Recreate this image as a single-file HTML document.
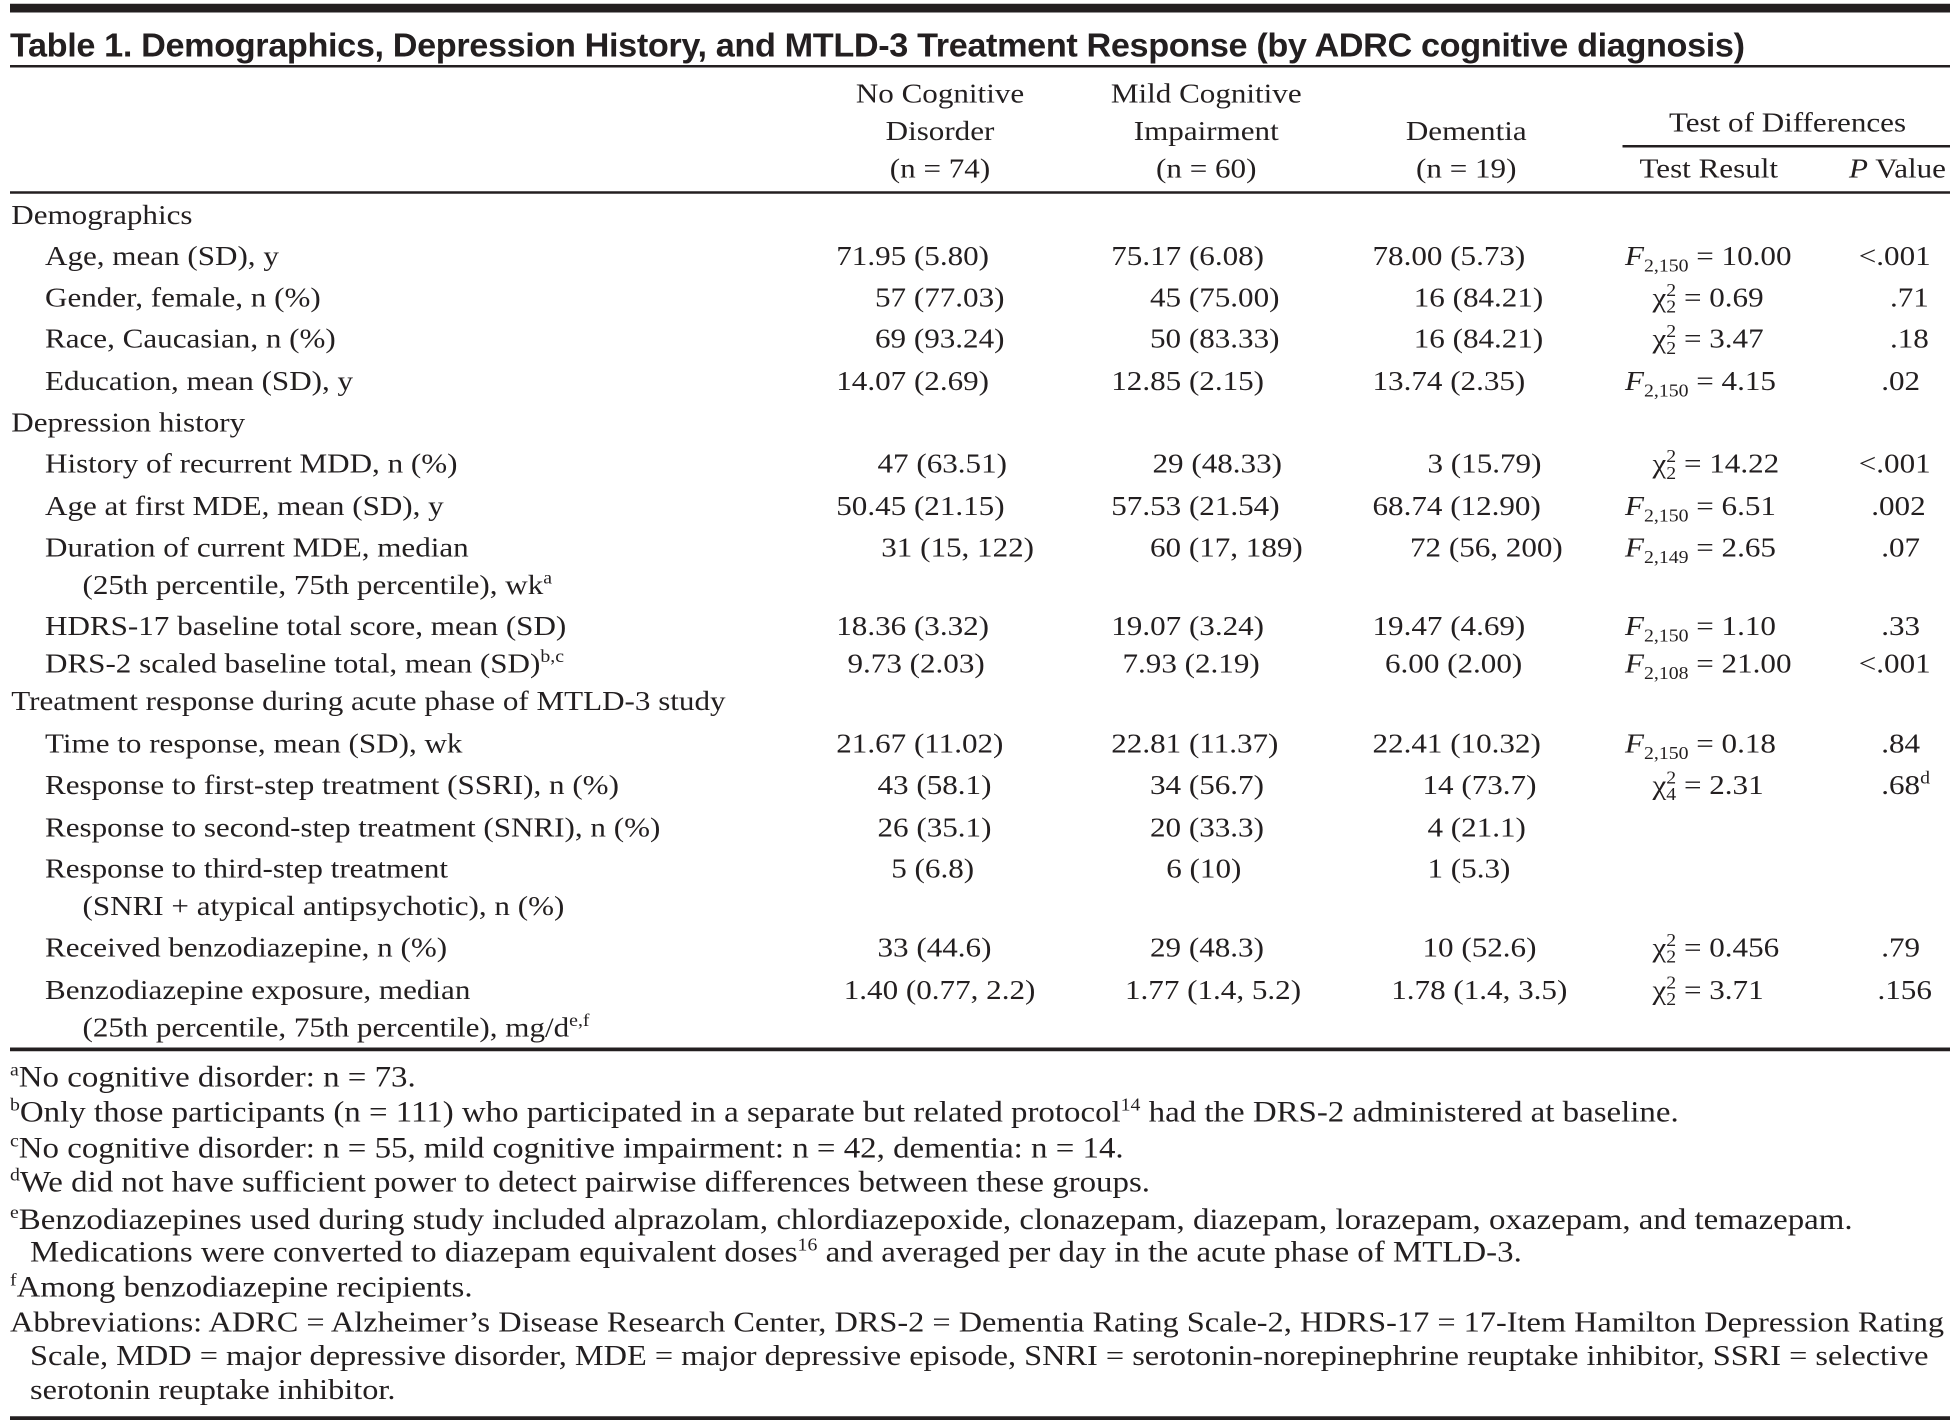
<!DOCTYPE html>
<html><head><meta charset="utf-8">
<style>
html,body{margin:0;padding:0;background:#fff;width:1959px;height:1425px;overflow:hidden}
#r{position:absolute;left:0;top:0;width:1567.2px;height:1140px;transform:scale(1.25);transform-origin:0 0;font-family:"Liberation Serif",serif;font-size:22px;color:#231f20}
.t{position:absolute;white-space:nowrap;line-height:22px;transform:scaleX(1.13);transform-origin:0 50%}
.c{transform:translateX(-50%) scaleX(1.13);transform-origin:50% 50%}
.f{font-size:23.3px;line-height:24px}
.fa{font-size:22.9px;line-height:24px}
.b{position:absolute;background:#231f20;left:8px;width:1552px}
sub,sup{font-size:14px;line-height:0}
i{font-style:italic}
</style></head><body><div id="r">
<div class="b" style="top:3px;height:7px"></div>
<div style="position:absolute;white-space:nowrap;left:8px;top:21px;font-family:'Liberation Sans',sans-serif;font-weight:bold;font-size:27px;line-height:30px;letter-spacing:-0.3px;transform:scaleX(1.015);transform-origin:0 50%">Table 1. Demographics, Depression History, and MTLD-3 Treatment Response (by ADRC cognitive diagnosis)</div>
<div class="b" style="top:51.5px;height:2.5px"></div>

<div class="t c" style="left:752px;top:64px">No Cognitive</div>
<div class="t c" style="left:752px;top:94px">Disorder</div>
<div class="t c" style="left:752px;top:124px">(n = 74)</div>
<div class="t c" style="left:965px;top:64px">Mild Cognitive</div>
<div class="t c" style="left:965px;top:94px">Impairment</div>
<div class="t c" style="left:965px;top:124px">(n = 60)</div>
<div class="t c" style="left:1173px;top:94px">Dementia</div>
<div class="t c" style="left:1173px;top:124px">(n = 19)</div>
<div class="t c" style="left:1430px;top:87px">Test of Differences</div>
<div style="position:absolute;left:1298px;top:116px;width:262px;height:2px;background:#231f20"></div>
<div class="t c" style="left:1367px;top:124px">Test Result</div>
<div class="t c" style="left:1518px;top:124px"><i>P</i> Value</div>
<div class="b" style="top:152.5px;height:2.5px"></div>

<div class="t" style="left:9px;top:161px">Demographics</div>
<div class="t" style="left:36px;top:194px">Age, mean (SD), y</div>
<div class="t" style="left:36px;top:227px">Gender, female, n (%)</div>
<div class="t" style="left:36px;top:260px">Race, Caucasian, n (%)</div>
<div class="t" style="left:36px;top:294px">Education, mean (SD), y</div>
<div class="t" style="left:9px;top:327px">Depression history</div>
<div class="t" style="left:36px;top:360px">History of recurrent MDD, n (%)</div>
<div class="t" style="left:36px;top:394px">Age at first MDE, mean (SD), y</div>
<div class="t" style="left:36px;top:427px">Duration of current MDE, median</div>
<div class="t" style="left:66px;top:457px">(25th percentile, 75th percentile), wk<sup>a</sup></div>
<div class="t" style="left:36px;top:490px">HDRS-17 baseline total score, mean (SD)</div>
<div class="t" style="left:36px;top:520px">DRS-2 scaled baseline total, mean (SD)<sup>b,c</sup></div>
<div class="t" style="left:9px;top:550px">Treatment response during acute phase of MTLD-3 study</div>
<div class="t" style="left:36px;top:584px">Time to response, mean (SD), wk</div>
<div class="t" style="left:36px;top:617px">Response to first-step treatment (SSRI), n (%)</div>
<div class="t" style="left:36px;top:651px">Response to second-step treatment (SNRI), n (%)</div>
<div class="t" style="left:36px;top:684px">Response to third-step treatment</div>
<div class="t" style="left:66px;top:714px">(SNRI + atypical antipsychotic), n (%)</div>
<div class="t" style="left:36px;top:747px">Received benzodiazepine, n (%)</div>
<div class="t" style="left:36px;top:781px">Benzodiazepine exposure, median</div>
<div class="t" style="left:66px;top:811px">(25th percentile, 75th percentile), mg/d<sup>e,f</sup></div>

<div class="t" style="left:669px;top:194px">71.95 (5.80)</div>
<div class="t" style="left:889px;top:194px">75.17 (6.08)</div>
<div class="t" style="left:1098px;top:194px">78.00 (5.73)</div>
<div class="t" style="left:1300px;top:194px"><i>F</i><sub>2,150</sub> = 10.00</div>
<div class="t" style="left:1487px;top:194px">&lt;.001</div>
<div class="t" style="left:700px;top:227px">57 (77.03)</div>
<div class="t" style="left:920px;top:227px">45 (75.00)</div>
<div class="t" style="left:1131px;top:227px">16 (84.21)</div>
<div class="t" style="left:1322px;top:227px">χ<sup>2</sup><sub style="margin-left:-7px">2</sub> = 0.69</div>
<div class="t" style="left:1512px;top:227px">.71</div>
<div class="t" style="left:700px;top:260px">69 (93.24)</div>
<div class="t" style="left:920px;top:260px">50 (83.33)</div>
<div class="t" style="left:1131px;top:260px">16 (84.21)</div>
<div class="t" style="left:1322px;top:260px">χ<sup>2</sup><sub style="margin-left:-7px">2</sub> = 3.47</div>
<div class="t" style="left:1512px;top:260px">.18</div>
<div class="t" style="left:669px;top:294px">14.07 (2.69)</div>
<div class="t" style="left:889px;top:294px">12.85 (2.15)</div>
<div class="t" style="left:1098px;top:294px">13.74 (2.35)</div>
<div class="t" style="left:1300px;top:294px"><i>F</i><sub>2,150</sub> = 4.15</div>
<div class="t" style="left:1505px;top:294px">.02</div>
<div class="t" style="left:702px;top:360px">47 (63.51)</div>
<div class="t" style="left:922px;top:360px">29 (48.33)</div>
<div class="t" style="left:1142px;top:360px">3 (15.79)</div>
<div class="t" style="left:1322px;top:360px">χ<sup>2</sup><sub style="margin-left:-7px">2</sub> = 14.22</div>
<div class="t" style="left:1487px;top:360px">&lt;.001</div>
<div class="t" style="left:669px;top:394px">50.45 (21.15)</div>
<div class="t" style="left:889px;top:394px">57.53 (21.54)</div>
<div class="t" style="left:1098px;top:394px">68.74 (12.90)</div>
<div class="t" style="left:1300px;top:394px"><i>F</i><sub>2,150</sub> = 6.51</div>
<div class="t" style="left:1497px;top:394px">.002</div>
<div class="t" style="left:705px;top:427px">31 (15, 122)</div>
<div class="t" style="left:920px;top:427px">60 (17, 189)</div>
<div class="t" style="left:1128px;top:427px">72 (56, 200)</div>
<div class="t" style="left:1300px;top:427px"><i>F</i><sub>2,149</sub> = 2.65</div>
<div class="t" style="left:1505px;top:427px">.07</div>
<div class="t" style="left:669px;top:490px">18.36 (3.32)</div>
<div class="t" style="left:889px;top:490px">19.07 (3.24)</div>
<div class="t" style="left:1098px;top:490px">19.47 (4.69)</div>
<div class="t" style="left:1300px;top:490px"><i>F</i><sub>2,150</sub> = 1.10</div>
<div class="t" style="left:1505px;top:490px">.33</div>
<div class="t" style="left:678px;top:520px">9.73 (2.03)</div>
<div class="t" style="left:898px;top:520px">7.93 (2.19)</div>
<div class="t" style="left:1108px;top:520px">6.00 (2.00)</div>
<div class="t" style="left:1300px;top:520px"><i>F</i><sub>2,108</sub> = 21.00</div>
<div class="t" style="left:1487px;top:520px">&lt;.001</div>
<div class="t" style="left:669px;top:584px">21.67 (11.02)</div>
<div class="t" style="left:889px;top:584px">22.81 (11.37)</div>
<div class="t" style="left:1098px;top:584px">22.41 (10.32)</div>
<div class="t" style="left:1300px;top:584px"><i>F</i><sub>2,150</sub> = 0.18</div>
<div class="t" style="left:1505px;top:584px">.84</div>
<div class="t" style="left:702px;top:617px">43 (58.1)</div>
<div class="t" style="left:920px;top:617px">34 (56.7)</div>
<div class="t" style="left:1138px;top:617px">14 (73.7)</div>
<div class="t" style="left:1322px;top:617px">χ<sup>2</sup><sub style="margin-left:-7px">4</sub> = 2.31</div>
<div class="t" style="left:1505px;top:617px">.68<sup>d</sup></div>
<div class="t" style="left:702px;top:651px">26 (35.1)</div>
<div class="t" style="left:920px;top:651px">20 (33.3)</div>
<div class="t" style="left:1142px;top:651px">4 (21.1)</div>
<div class="t" style="left:713px;top:684px">5 (6.8)</div>
<div class="t" style="left:933px;top:684px">6 (10)</div>
<div class="t" style="left:1142px;top:684px">1 (5.3)</div>
<div class="t" style="left:702px;top:747px">33 (44.6)</div>
<div class="t" style="left:920px;top:747px">29 (48.3)</div>
<div class="t" style="left:1138px;top:747px">10 (52.6)</div>
<div class="t" style="left:1322px;top:747px">χ<sup>2</sup><sub style="margin-left:-7px">2</sub> = 0.456</div>
<div class="t" style="left:1505px;top:747px">.79</div>
<div class="t" style="left:675px;top:781px">1.40 (0.77, 2.2)</div>
<div class="t" style="left:900px;top:781px">1.77 (1.4, 5.2)</div>
<div class="t" style="left:1113px;top:781px">1.78 (1.4, 3.5)</div>
<div class="t" style="left:1322px;top:781px">χ<sup>2</sup><sub style="margin-left:-7px">2</sub> = 3.71</div>
<div class="t" style="left:1502px;top:781px">.156</div>

<div class="b" style="top:838px;height:2.5px"></div>

<div class="t f" style="left:8px;top:850px"><sup>a</sup>No cognitive disorder: n = 73.</div>
<div class="t f" style="left:8px;top:878px"><sup>b</sup>Only those participants (n = 111) who participated in a separate but related protocol<sup>14</sup> had the DRS-2 administered at baseline.</div>
<div class="t f" style="left:8px;top:907px"><sup>c</sup>No cognitive disorder: n = 55, mild cognitive impairment: n = 42, dementia: n = 14.</div>
<div class="t f" style="left:8px;top:934px"><sup>d</sup>We did not have sufficient power to detect pairwise differences between these groups.</div>
<div class="t f" style="left:8px;top:964px"><sup>e</sup>Benzodiazepines used during study included alprazolam, chlordiazepoxide, clonazepam, diazepam, lorazepam, oxazepam, and temazepam.</div>
<div class="t f" style="left:24px;top:990px">Medications were converted to diazepam equivalent doses<sup>16</sup> and averaged per day in the acute phase of MTLD-3.</div>
<div class="t f" style="left:8px;top:1018px"><sup>f</sup>Among benzodiazepine recipients.</div>
<div class="t fa" style="left:8px;top:1046px">Abbreviations: ADRC = Alzheimer’s Disease Research Center, DRS-2 = Dementia Rating Scale-2, HDRS-17 = 17-Item Hamilton Depression Rating</div>
<div class="t fa" style="left:24px;top:1073px">Scale, MDD = major depressive disorder, MDE = major depressive episode, SNRI = serotonin-norepinephrine reuptake inhibitor, SSRI = selective</div>
<div class="t fa" style="left:24px;top:1100px">serotonin reuptake inhibitor.</div>

<div class="b" style="top:1133px;height:2.5px"></div>
</div></body></html>
